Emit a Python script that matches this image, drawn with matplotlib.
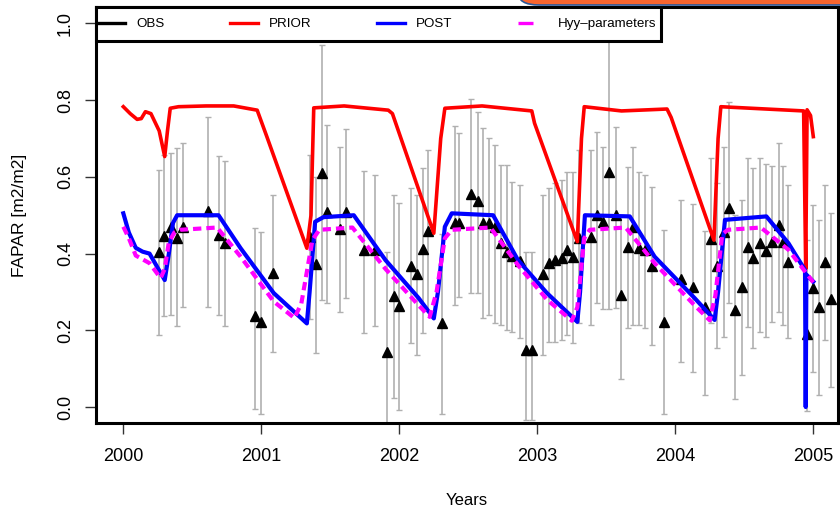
import matplotlib
matplotlib.use("Agg")
import matplotlib.pyplot as plt
import numpy as np
from matplotlib.lines import Line2D
from matplotlib.patches import Rectangle, FancyBboxPatch

plt.rcParams['font.family'] = ['Liberation Sans', 'DejaVu Sans']

# model runs (decimal years, FAPAR)
prior_t = [2000.00, 2000.05, 2000.10, 2000.13, 2000.16, 2000.20, 2000.26, 2000.30, 2000.32, 2000.34,
           2000.40, 2000.60, 2000.80, 2000.97, 2001.04, 2001.33, 2001.36, 2001.38, 2001.60, 2001.92,
           2001.95, 2002.25, 2002.30, 2002.33, 2002.60, 2002.96, 2002.98, 2003.29, 2003.32, 2003.34,
           2003.61, 2003.94, 2003.97, 2004.28, 2004.31, 2004.33, 2004.93, 2004.945, 2004.955, 2004.98,
           2005.00]
prior_v = [0.783, 0.765, 0.750, 0.752, 0.770, 0.765, 0.720, 0.653, 0.720, 0.779,
           0.783, 0.785, 0.785, 0.774, 0.705, 0.414, 0.500, 0.780, 0.785, 0.774,
           0.765, 0.453, 0.700, 0.779, 0.785, 0.772, 0.740, 0.431, 0.700, 0.783,
           0.772, 0.777, 0.755, 0.435, 0.700, 0.783, 0.772, 0.360, 0.775, 0.760,
           0.705]

post_t = [2000.00, 2000.04, 2000.09, 2000.14, 2000.19, 2000.30, 2000.33, 2000.36, 2000.39, 2000.69,
          2000.85, 2001.09, 2001.33, 2001.35, 2001.39, 2001.45, 2001.67, 2001.90, 2002.14, 2002.25,
          2002.28, 2002.33, 2002.38, 2002.68, 2002.86, 2003.07, 2003.29, 2003.31, 2003.345, 2003.67,
          2003.85, 2004.14, 2004.285, 2004.31, 2004.36, 2004.66, 2004.82, 2004.94, 2004.945, 2004.95,
          2005.00]
post_v = [0.505, 0.455, 0.415, 0.405, 0.400, 0.331, 0.400, 0.480, 0.500, 0.500,
          0.414, 0.297, 0.218, 0.300, 0.483, 0.495, 0.500, 0.383, 0.284, 0.231,
          0.300, 0.470, 0.505, 0.500, 0.383, 0.297, 0.222, 0.300, 0.500, 0.497,
          0.392, 0.284, 0.227, 0.300, 0.488, 0.497, 0.427, 0.357, 0.000, 0.345,
          0.327]

hyy_t = [2000.00, 2000.04, 2000.09, 2000.14, 2000.19, 2000.27, 2000.30, 2000.33, 2000.37, 2000.41,
         2000.68, 2000.85, 2001.09, 2001.24, 2001.29, 2001.37, 2001.42, 2001.66, 2001.90, 2002.14,
         2002.22, 2002.27, 2002.33, 2002.38, 2002.66, 2002.86, 2003.07, 2003.25, 2003.29, 2003.34,
         2003.38, 2003.64, 2003.85, 2004.14, 2004.25, 2004.29, 2004.34, 2004.38, 2004.62, 2004.82,
         2005.00]
hyy_v = [0.470, 0.440, 0.395, 0.385, 0.375, 0.336, 0.360, 0.430, 0.455, 0.462,
         0.468, 0.392, 0.275, 0.232, 0.270, 0.435, 0.462, 0.468, 0.360, 0.265,
         0.235, 0.300, 0.440, 0.462, 0.468, 0.370, 0.280, 0.225, 0.260, 0.440,
         0.462, 0.468, 0.375, 0.265, 0.226, 0.290, 0.450, 0.462, 0.468, 0.410,
         0.325]

# observations with upper / lower bounds
obs_t = [2000.256, 2000.297, 2000.345, 2000.389, 2000.435, 2000.61, 2000.69, 2000.74,
         2000.954, 2000.998, 2001.087, 2001.353, 2001.396, 2001.437, 2001.478, 2001.57,
         2001.614, 2001.744, 2001.824, 2001.909, 2001.964, 2001.998, 2002.085, 2002.126,
         2002.174, 2002.21, 2002.307, 2002.40, 2002.434, 2002.52, 2002.568, 2002.61,
         2002.652, 2002.694, 2002.735, 2002.78, 2002.82, 2002.875, 2002.918, 2002.96,
         2003.043, 2003.085, 2003.128, 2003.177, 2003.217, 2003.261, 2003.30, 2003.389,
         2003.43, 2003.478, 2003.52, 2003.57, 2003.61, 2003.655, 2003.696, 2003.74,
         2003.78, 2003.83, 2003.92, 2004.04, 2004.13, 2004.215, 2004.26, 2004.30,
         2004.35, 2004.39, 2004.43, 2004.48, 2004.525, 2004.565, 2004.614, 2004.655,
         2004.70, 2004.75, 2004.78, 2004.82, 2004.955, 2005.00, 2005.04, 2005.085, 2005.13]
obs_v = [0.405, 0.446, 0.470, 0.440, 0.470, 0.512, 0.448, 0.428,
         0.237, 0.222, 0.350, 0.444, 0.373, 0.609, 0.509, 0.464,
         0.509, 0.409, 0.409, 0.144, 0.289, 0.264, 0.368, 0.347,
         0.411, 0.459, 0.220, 0.480, 0.480, 0.555, 0.538, 0.481,
         0.481, 0.470, 0.428, 0.405, 0.394, 0.380, 0.149, 0.149,
         0.346, 0.376, 0.383, 0.388, 0.409, 0.392, 0.440, 0.444,
         0.500, 0.483, 0.614, 0.500, 0.292, 0.416, 0.470, 0.414,
         0.409, 0.368, 0.222, 0.333, 0.314, 0.262, 0.437, 0.368,
         0.457, 0.518, 0.253, 0.314, 0.416, 0.388, 0.428, 0.408,
         0.431, 0.475, 0.430, 0.379, 0.190, 0.310, 0.262, 0.379, 0.281]
obs_hi = [0.618, 0.657, 0.662, 0.675, 0.689, 0.755, 0.654, 0.642,
          0.468, 0.457, 0.553, 0.657, 0.600, 0.944, 0.735, 0.679,
          0.724, 0.615, 0.605, 0.405, 0.553, 0.531, 0.570, 0.553,
          0.624, 0.670, 0.450, 0.733, 0.714, 0.802, 0.770, 0.727,
          0.701, 0.683, 0.631, 0.631, 0.587, 0.579, 0.405, 0.405,
          0.553, 0.570, 0.583, 0.592, 0.614, 0.614, 0.670, 0.670,
          0.718, 0.679, 1.100, 0.729, 0.500, 0.627, 0.679, 0.614,
          0.605, 0.574, 0.462, 0.540, 0.529, 0.460, 0.648, 0.583,
          0.679, 0.796, 0.500, 0.540, 0.648, 0.622, 0.648, 0.634,
          0.628, 0.688, 0.628, 0.579, 0.435, 0.527, 0.488, 0.579, 0.505]
obs_lo = [0.188, 0.237, 0.240, 0.211, 0.262, 0.262, 0.240, 0.212,
          -0.004, -0.018, 0.144, 0.230, 0.140, 0.279, 0.270, 0.249,
          0.283, 0.194, 0.211, -0.050, 0.023, -0.008, 0.166, 0.136,
          0.194, 0.250, -0.017, 0.266, 0.288, 0.296, 0.297, 0.231,
          0.240, 0.218, 0.214, 0.200, 0.196, 0.180, -0.034, -0.034,
          0.136, 0.170, 0.170, 0.175, 0.188, 0.166, 0.220, 0.214,
          0.270, 0.255, 0.255, 0.257, 0.072, 0.205, 0.214, 0.214,
          0.205, 0.162, -0.017, 0.118, 0.092, 0.031, 0.220, 0.153,
          0.183, 0.270, 0.020, 0.083, 0.208, 0.153, 0.196, 0.183,
          0.222, 0.249, 0.214, 0.179, -0.010, 0.092, 0.031, 0.175, 0.053]

fig = plt.figure(figsize=(8.4, 5.08), dpi=100)
ax = fig.add_axes([96 / 840, 1 - 423.3 / 508, 742 / 840, 416.3 / 508])

obs_v_arr = np.array(obs_v)
yerr = [obs_v_arr - np.array(obs_lo), np.array(obs_hi) - obs_v_arr]
ax.errorbar(obs_t, obs_v, yerr=yerr, fmt='none', ecolor='#b0b0b0',
            elinewidth=1.2, capsize=2.2, capthick=1.0, zorder=1)
ax.plot(obs_t, obs_v, '^', color='black', markersize=7, zorder=2)

ax.plot(prior_t, prior_v, color='#ff0000', lw=2.6, zorder=3)
ax.plot(post_t, post_v, color='#0000ff', lw=3.0, zorder=4)
ax.plot(hyy_t, hyy_v, color='#ff00ff', lw=3.0, dashes=(2.0, 1.2), zorder=5)

ax.set_xlim(1999.802, 2005.179)
ax.set_ylim(-0.0425, 1.043)
ax.set_xticks([2000, 2001, 2002, 2003, 2004, 2005])
ax.set_yticks([0.0, 0.2, 0.4, 0.6, 0.8, 1.0])
ax.set_yticklabels(["0.0", "0.2", "0.4", "0.6", "0.8", "1.0"], rotation=90, va='center')
ax.tick_params(axis='both', length=8, width=1.0, labelsize=13, color='#333333')
ax.tick_params(axis='x', pad=10)
ax.tick_params(axis='y', pad=8)
for s in ax.spines.values():
    s.set_linewidth(2.2)

ax.set_xlabel("Years", fontsize=12, va='center')
ax.xaxis.set_label_coords(0.5, -0.186)
ax.set_ylabel("FAPAR [m2/m2]", fontsize=12.5, va='center')
ax.yaxis.set_label_coords((20 - 96) / 742, 0.5)

# legend box (R style, horizontal)
ax.add_patch(Rectangle((0, 0.918), 0.762, 0.082, transform=ax.transAxes,
                       facecolor='white', edgecolor='black', lw=2.2, zorder=9, clip_on=False))
handles = [Line2D([], [], color='black', lw=2.4),
           Line2D([], [], color='#ff0000', lw=2.4),
           Line2D([], [], color='#0000ff', lw=2.4),
           Line2D([], [], color='#ff00ff', lw=2.4, dashes=(4.5, 6))]
labels = ["OBS", "PRIOR", "POST", "Hyy\u2013parameters"]
leg = ax.legend(handles, labels, ncol=4, mode='expand', loc='center left',
                bbox_to_anchor=(-0.0077, 0.918, 0.7714, 0.082), borderaxespad=0,
                borderpad=0.5, frameon=False, fontsize=9.6, handlelength=2.1,
                handletextpad=0.83)
leg.set_zorder(10)

# slide banner fragment at the top right
fig.patches.append(FancyBboxPatch((518 / 840, 1 - 5 / 508), 0.5, 0.1,
                                  boxstyle="round,pad=0,rounding_size=0.025",
                                  transform=fig.transFigure, facecolor='#f7652f',
                                  edgecolor='#2b5797', lw=1.2, figure=fig))

fig.savefig("out.png", dpi=100)
